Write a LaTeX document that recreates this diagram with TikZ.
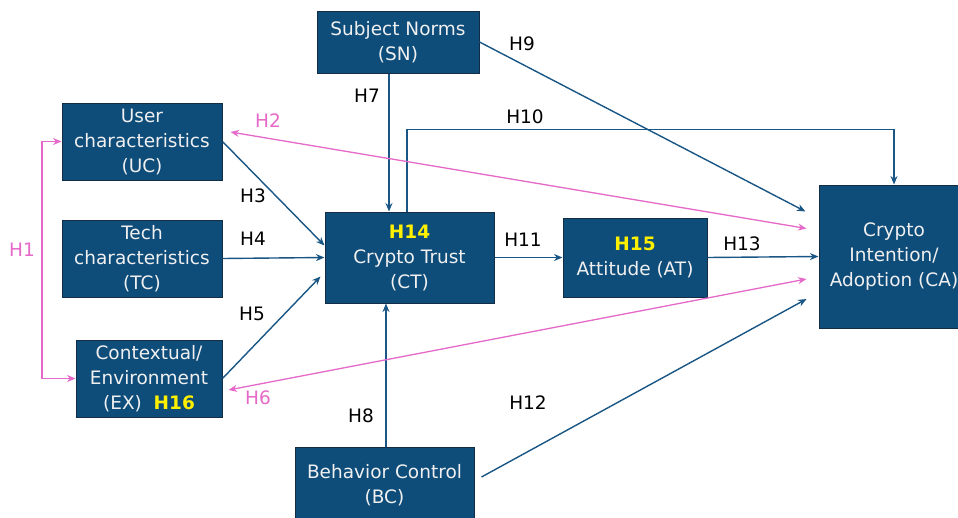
\documentclass[tikz,border=0pt]{standalone}
\usepackage{fontspec}
\setmainfont{DejaVu Sans}
\usetikzlibrary{arrows.meta}
\definecolor{boxblue}{RGB}{14,76,122}
\definecolor{boxedge}{RGB}{20,45,70}
\definecolor{arrowblue}{RGB}{25,86,132}
\definecolor{hpink}{RGB}{228,105,200}
\definecolor{hyellow}{RGB}{255,240,0}
\definecolor{boxtext}{RGB}{240,240,240}
\begin{document}
\begin{tikzpicture}[x=1pt,y=-1pt,
  box/.style={draw=boxedge, line width=1pt, fill=boxblue, text=boxtext, align=center,
    inner sep=0pt, font=\fontsize{18.5}{25}\selectfont},
  lab/.style={font=\fontsize{18.5}{25}\selectfont, text=black, inner sep=0pt},
  plab/.style={lab, text=hpink},
  barrow/.style={draw=arrowblue, line width=1.4pt, -{Stealth[length=8.5pt,width=7pt]}},
  parrow/.style={draw=hpink, line width=1.3pt, {Stealth[length=8.5pt,width=7pt]}-{Stealth[length=8.5pt,width=7pt]}},
  hl/.style={text=hyellow, font=\fontsize{18.5}{25}\selectfont\bfseries}
]
\useasboundingbox (0,0) rectangle (958,517);

% boxes
\node[box, minimum width=160pt, minimum height=77pt] (UC) at (142,141.5) {User\\characteristics\\(UC)};
\node[box, minimum width=160pt, minimum height=77pt] (TC) at (142,258.5) {Tech\\characteristics\\(TC)};
\node[box, minimum width=146pt, minimum height=77pt] (EX) at (149,378.5) {Contextual/\\Environment\\(EX)\ \ {\color{hyellow}\bfseries H16}};
\node[box, minimum width=162pt, minimum height=62pt] (SN) at (398,42) {Subject Norms\\(SN)};
\node[box, minimum width=169pt, minimum height=91pt] (CT) at (409.5,257.5) {{\color{hyellow}\bfseries H14}\\Crypto Trust\\(CT)};
\node[box, minimum width=144pt, minimum height=79pt] (AT) at (635,257.5) {{\color{hyellow}\bfseries H15}\\Attitude (AT)};
\node[box, minimum width=150pt, minimum height=143pt] (CA) at (894,256.5) {Crypto\\Intention/\\Adoption (CA)};
\node[box, minimum width=179pt, minimum height=77pt] (BC) at (384.5,485.5) {Behavior Control\\(BC)};

% H1
\coordinate (h1) at (42,260);
\draw[parrow] (UC.west) -| (h1) |- (EX.west);
\node[plab] (lH1) at (22,250) {H1};

% blue arrows into CT
\draw[barrow] (UC.east) -- ([yshift=12pt]CT.west);
\draw[barrow] (TC.east) -- (CT.west);
\draw[barrow] (EX.east) -- ([xshift=-4pt,yshift=-19pt]CT.west);
\draw[barrow] ([xshift=-9pt]SN.south) -- ([xshift=-9pt]SN.south |- CT.north);
\draw[barrow] ([xshift=1.5pt]BC.north) -- ([xshift=1.5pt]BC.north |- CT.south);

% arrows into CA
\draw[barrow] (SN.east) -- ([xshift=-13pt,yshift=45pt]CA.west);
\draw[barrow] ([xshift=-2.5pt]CT.north) |- ([yshift=55pt]CA.north) -- (CA.north);
\draw[barrow] (CT.east) -- (AT.west);
\draw[barrow] (AT.east) -- (CA.west);
\draw[barrow] ([xshift=7pt,yshift=8.5pt]BC.east) -- ([xshift=-12pt,yshift=-42.5pt]CA.west);

% pink double arrows
\draw[parrow] ([xshift=8pt,yshift=9.5pt]UC.east) -- ([xshift=-12pt,yshift=28pt]CA.west);
\draw[parrow] ([xshift=6pt,yshift=-11.5pt]EX.east) -- ([xshift=-12pt,yshift=-22.5pt]CA.west);

% labels
\node[plab] (lH2) at (268,121) {H2};
\node[lab] (lH3) at (253,196) {H3};
\node[lab] (lH4) at (253,239) {H4};
\node[lab] (lH5) at (252,314) {H5};
\node[plab] (lH6) at (258,398) {H6};
\node[lab] (lH7) at (367,96) {H7};
\node[lab] (lH8) at (361,416) {H8};
\node[lab] (lH9) at (522,44) {H9};
\node[lab] (lH10) at (525,117) {H10};
\node[lab] (lH11) at (523,240) {H11};
\node[lab] (lH12) at (528,403) {H12};
\node[lab] (lH13) at (742,244) {H13};
\end{tikzpicture}
\end{document}
